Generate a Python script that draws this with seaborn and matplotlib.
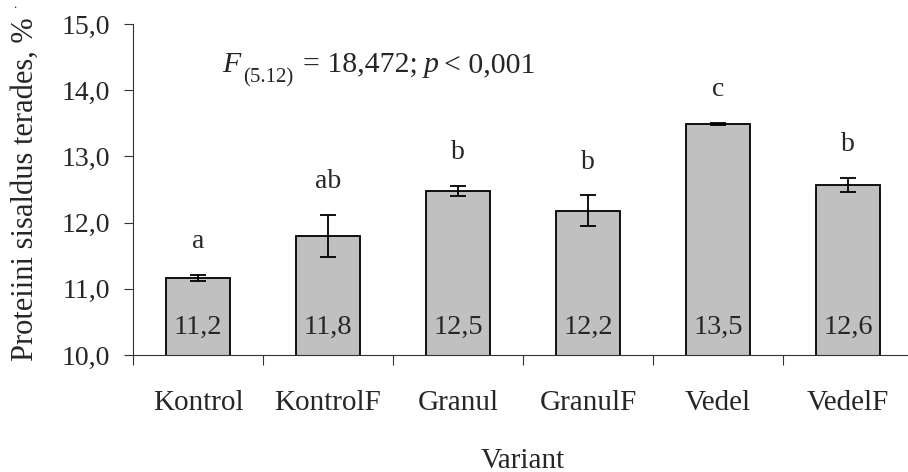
import numpy as np
import seaborn as sns
import matplotlib.pyplot as plt
from matplotlib.ticker import FixedLocator, FuncFormatter

# data
variants = ['Kontrol', 'KontrolF', 'Granul', 'GranulF', 'Vedel', 'VedelF']
means = [11.16, 11.80, 12.48, 12.18, 13.49, 12.57]
errors = [0.05, 0.32, 0.08, 0.23, 0.02, 0.11]
bar_labels = ['11,2', '11,8', '12,5', '12,2', '13,5', '12,6']
letters = ['a', 'ab', 'b', 'b', 'c', 'b']

sns.set_style('ticks')
plt.rcParams['font.family'] = ['Liberation Serif', 'DejaVu Serif']

W, H = 908, 472
fig = plt.figure(figsize=(W / 100, H / 100), dpi=100)
ax = fig.add_axes([0.1465, 0.248, 0.859, 0.701])

sns.barplot(x=variants, y=means, color='#C0C0C0', saturation=1, width=0.49,
            edgecolor='black', linewidth=1.3, ax=ax)
ax.errorbar(range(len(variants)), means, yerr=errors, fmt='none',
            ecolor='black', elinewidth=1.3, capsize=5.5, capthick=1.3)

for i, (m, e) in enumerate(zip(means, errors)):
    ax.text(i, 10.42, bar_labels[i], ha='center', va='center', fontsize=20.5)
    ax.text(i, m + e + 0.5, letters[i], ha='center', va='center', fontsize=20)

ax.set_ylim(10, 15)
ax.set_xlim(-0.5, 5.5)
ax.yaxis.set_major_locator(FixedLocator(np.arange(10, 15.01, 1)))
ax.yaxis.set_major_formatter(FuncFormatter(lambda v, p: f'{v:.1f}'.replace('.', ',')))
ax.tick_params(axis='y', labelsize=20, length=6.5, width=0.8, color='#333333', pad=10)

ax.set_xticks(np.arange(-0.5, 5.6, 1), minor=True)
ax.tick_params(axis='x', which='minor', length=7.5, width=0.8, color='#333333')
ax.tick_params(axis='x', which='major', length=0, labelsize=21, pad=25)

ax.set_ylabel('Proteiini sisaldus terades, %', fontsize=22, labelpad=16)
ax.set_xlabel('Variant', fontsize=21, labelpad=23)

for s in ['top', 'right']:
    ax.spines[s].set_visible(False)
for s in ['left', 'bottom']:
    ax.spines[s].set_linewidth(0.8)
    ax.spines[s].set_color('#333333')

# F-statistic annotation
def px(x, y):
    return x / W, 1 - y / H

fig.text(*px(222, 72), 'F', fontsize=21.5, fontstyle='italic', va='baseline')
fig.text(*px(243, 82), '(5.12)', fontsize=15, va='baseline')
fig.text(*px(303, 72), '= 18,472;', fontsize=21.5, va='baseline')
fig.text(*px(424, 72), 'p', fontsize=21.5, fontstyle='italic', va='baseline')
fig.text(*px(444, 72), '< 0,001', fontsize=21.5, va='baseline')
fig.text(*px(15, 8), '.', fontsize=9, ha='center', va='baseline')

fig.savefig('out.png', dpi=100)
